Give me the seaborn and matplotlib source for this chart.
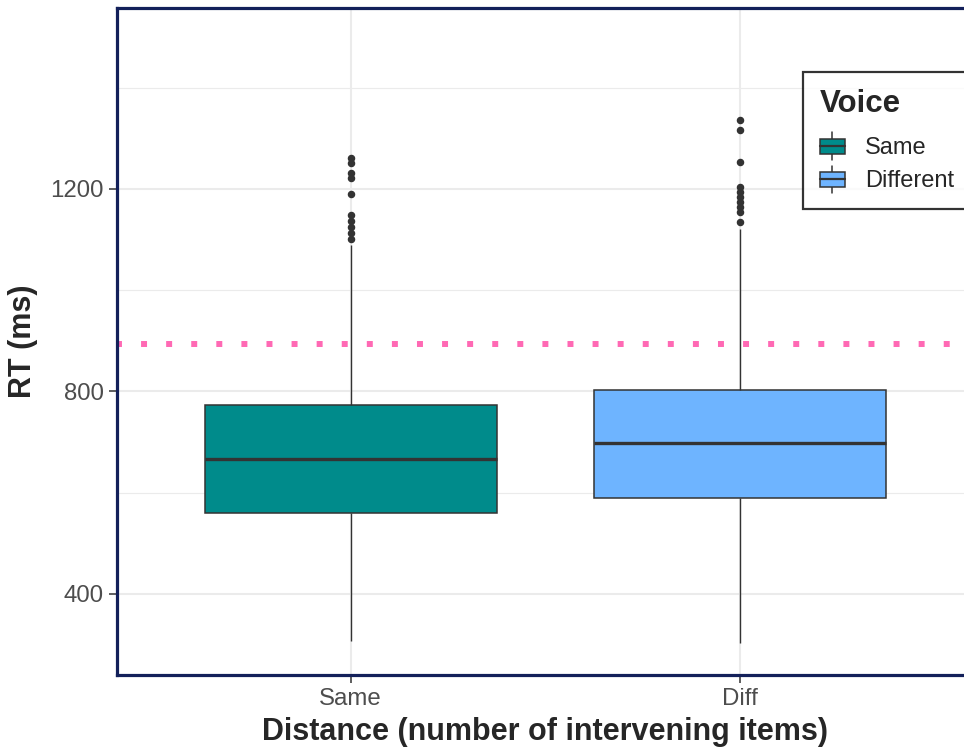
import numpy as np
import pandas as pd
import matplotlib
matplotlib.use("Agg")
import matplotlib.pyplot as plt
from matplotlib.legend_handler import HandlerBase
from matplotlib.patches import Rectangle
from matplotlib.lines import Line2D
import seaborn as sns

# ---- data -------------------------------------------------------------
categories = ["Same", "Diff"]
voices = ["Same", "Different"]
box_colors = ["#008B8B", "#6EB4FF"]

whisker_lo = [307, 303]
q1 = [560, 590]
median = [667, 698]
q3 = [773, 803]
whisker_hi = [1090, 1120]
outliers_same = [1101, 1113, 1125, 1137, 1149, 1190, 1222, 1232, 1251, 1261]
outliers_diff = [1135, 1155, 1164, 1174, 1184, 1194, 1204, 1253, 1317, 1336]
outliers = [outliers_same, outliers_diff]

reference_rt = 893

y_ticks = [400, 800, 1200]
y_minor = [600, 1000, 1400]

# Long-form table whose quartiles / whiskers / outliers reproduce the summaries
rows = []
for i, cat in enumerate(categories):
    vals = ([whisker_lo[i]] + [q1[i]] * 40 + [median[i]] * 40 + [q3[i]] * 40
            + [whisker_hi[i]] + outliers[i])
    for v in vals:
        rows.append((cat, voices[i], v))
df = pd.DataFrame(rows, columns=["Distance", "Voice", "RT"])

# ---- style ------------------------------------------------------------
sns.set_style("white")
plt.rcParams["font.family"] = ["Liberation Sans", "DejaVu Sans"]

fig = plt.figure(figsize=(9.64, 7.48), dpi=100)
ax = fig.add_axes([117 / 964, 1 - 675 / 748, (974 - 117) / 964, (675 - 8) / 748])

dark = "#333333"
sns.boxplot(
    data=df, x="Distance", y="RT", hue="Voice",
    order=categories, hue_order=voices, palette=box_colors, saturation=1,
    dodge=False, width=0.75, showcaps=False, legend=False,
    linecolor=dark, linewidth=1.1, fliersize=4.4,
    flierprops=dict(marker="o", markerfacecolor=dark, markeredgecolor=dark),
    medianprops=dict(color=dark, linewidth=2.4),
    whiskerprops=dict(color=dark, linewidth=1.0),
    boxprops=dict(edgecolor=dark, linewidth=1.1),
    ax=ax, zorder=3,
)

ax.axhline(reference_rt, color="#FF69B4", lw=4.3, linestyle=(0.17, (1, 3.2)),
           dash_capstyle="butt", zorder=4)

ax.set_xlim(-0.6, 1.6)
ax.set_ylim(240, 1557)
ax.set_yticks(y_ticks)
ax.set_yticks(y_minor, minor=True)

grid_c = "#EBEBEB"
for v in y_ticks:
    ax.axhline(v, color=grid_c, lw=1.5, zorder=0)
for v in y_minor:
    ax.axhline(v, color=grid_c, lw=0.8, zorder=0)
for v in range(len(categories)):
    ax.axvline(v, color=grid_c, lw=1.5, zorder=0)

ax.tick_params(axis="both", which="major", length=5.5, width=1.1, color=dark,
               labelsize=17.3, labelcolor="#4D4D4D", pad=4, direction="out",
               bottom=True, left=True)
ax.tick_params(axis="y", which="minor", length=0)

for sp in ax.spines.values():
    sp.set_color("#13205A")
    sp.set_linewidth(2.3)
    sp.set_zorder(6)

ax.set_xlabel("Distance (number of intervening items)", fontsize=22,
              fontweight="bold", labelpad=5)
ax.set_ylabel("RT (ms)", fontsize=22, fontweight="bold", labelpad=9)


# ---- legend with boxplot keys --------------------------------------
class BoxKey(HandlerBase):
    def create_artists(self, legend, orig_handle, xdescent, ydescent,
                       width, height, fontsize, trans):
        cx = width / 2 - xdescent
        cy = height / 2 - ydescent
        bw, bh = width, height * 0.7
        wl = Line2D([cx, cx], [cy - height * 0.65, cy + height * 0.65],
                    color=dark, lw=1.1, transform=trans)
        box = Rectangle((cx - bw / 2, cy - bh / 2), bw, bh,
                        facecolor=orig_handle.get_facecolor(), edgecolor=dark,
                        lw=1.1, transform=trans)
        med = Line2D([cx - bw / 2, cx + bw / 2], [cy, cy], color=dark, lw=1.6,
                     transform=trans)
        return [wl, box, med]


handles = [Rectangle((0, 0), 1, 1, facecolor=c) for c in box_colors]
leg = ax.legend(handles, voices, title="Voice", loc="upper left",
                bbox_to_anchor=(803 / 964, 1 - 72 / 748),
                bbox_transform=fig.transFigure,
                handler_map={Rectangle: BoxKey()},
                fontsize=17, title_fontproperties=dict(weight="bold", size=22.5),
                frameon=True, fancybox=False, edgecolor="black",
                handlelength=1.05, handleheight=1.0, handletextpad=0.85,
                labelspacing=0.4, borderpad=0.72, borderaxespad=0)
leg._legend_box.align = "left"
leg._legend_box.sep = 12  # extra room between the title and the entries
leg.get_frame().set_linewidth(1.6)
leg.set_zorder(10)

fig.savefig("out.png", dpi=100)
